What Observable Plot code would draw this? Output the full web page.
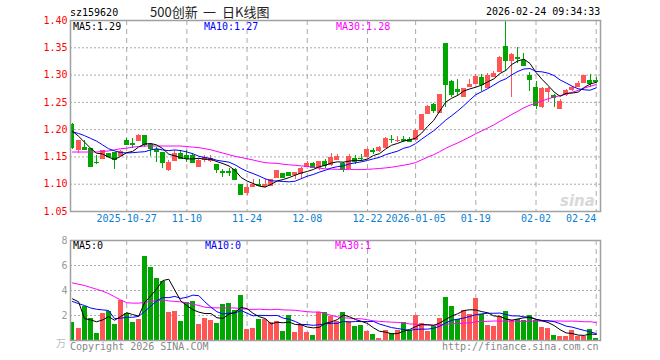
<!DOCTYPE html>
<html><head><meta charset="utf-8">
<script src="https://cdn.jsdelivr.net/npm/d3@7"></script>
<script src="https://cdn.jsdelivr.net/npm/@observablehq/plot@0.6"></script>
<style>
html,body{margin:0;padding:0;background:#fff;}
#wrap{position:relative;width:660px;height:360px;overflow:hidden;font-family:"DejaVu Sans Mono",monospace;font-size:10px;color:#000;}
.t{position:absolute;white-space:pre;line-height:12px;}
.cjk{font-family:"Noto Sans CJK SC",sans-serif;font-size:13px;line-height:16px;color:#222;}
#p1,#p2{position:absolute;left:0;}
</style></head><body>
<div id="wrap">
  <div id="p1" style="top:0px"></div>
  <div id="p2" style="top:230px"></div>
  <div class="t" style="left:70px;top:7px">sz159620</div>
  <div class="t cjk" style="left:150px;top:4px">500创新</div>
  <div class="t cjk" style="left:203px;top:4px">一</div>
  <div class="t cjk" style="left:222px;top:4px">日K线图</div>
  <div class="t" style="left:486px;top:6px">2026-02-24 09:34:33</div>
  <div class="t" style="left:73px;top:21px;color:#000">MA5:1.29</div>
  <div class="t" style="left:204px;top:21px;color:#0000ff">MA10:1.27</div>
  <div class="t" style="left:336px;top:21px;color:#ff00ff">MA30:1.28</div>
  <div class="t" style="left:73px;top:240px;color:#000">MA5:0</div>
  <div class="t" style="left:205px;top:240px;color:#0000ff">MA10:0</div>
  <div class="t" style="left:335px;top:240px;color:#ff00ff">MA30:1</div>
  <div class="t" style="left:70px;top:341px;color:#888">Copyright 2026 SINA.COM</div>
  <div class="t" style="left:442px;top:341px;color:#888">http://finance.sina.com.cn</div>
  <div class="t cjk" style="left:56px;top:335px;font-size:10px;color:#bbb">万</div>
  <div class="t" style="left:560px;top:193px;font-family:'DejaVu Sans',sans-serif;font-size:15px;line-height:16px;font-style:italic;font-weight:bold;color:#d8d8d8">sina</div>
</div>
<script>
// ---- categories ----
const dates = [
"2025-10-14","2025-10-15","2025-10-16","2025-10-17",
"2025-10-20","2025-10-21","2025-10-22","2025-10-23","2025-10-24",
"2025-10-27","2025-10-28","2025-10-29","2025-10-30","2025-10-31",
"2025-11-03","2025-11-04","2025-11-05","2025-11-06","2025-11-07",
"2025-11-10","2025-11-11","2025-11-12","2025-11-13","2025-11-14",
"2025-11-17","2025-11-18","2025-11-19","2025-11-20","2025-11-21",
"2025-11-24","2025-11-25","2025-11-26","2025-11-27","2025-11-28",
"2025-12-01","2025-12-02","2025-12-03","2025-12-04","2025-12-05",
"2025-12-08","2025-12-09","2025-12-10","2025-12-11","2025-12-12",
"2025-12-15","2025-12-16","2025-12-17","2025-12-18","2025-12-19",
"2025-12-22","2025-12-23","2025-12-24","2025-12-25","2025-12-26",
"2025-12-29","2025-12-30","2025-12-31",
"2026-01-05","2026-01-06","2026-01-07","2026-01-08","2026-01-09",
"2026-01-12","2026-01-13","2026-01-14","2026-01-15","2026-01-16",
"2026-01-19","2026-01-20","2026-01-21","2026-01-22","2026-01-23",
"2026-01-26","2026-01-27","2026-01-28","2026-01-29","2026-01-30",
"2026-02-02","2026-02-03","2026-02-04","2026-02-05","2026-02-06",
"2026-02-09","2026-02-10","2026-02-11","2026-02-12","2026-02-13",
"2026-02-24"];
const tickDates  = ["2025-10-27","2025-11-10","2025-11-24","2025-12-08","2025-12-22","2026-01-05","2026-01-19","2026-02-02","2026-02-24"];
const tickLabels = ["2025-10-27","11-10","11-24","12-08","12-22","2026-01-05","01-19","02-02","02-24"];
const priceTicks = [1.05,1.10,1.15,1.20,1.25,1.30,1.35,1.40];
const volTicks = [2,4,6,8];

// ---- series ----
const open = [1.210,1.163,1.168,1.165,1.140,1.148,1.156,1.158,1.153,1.1795,
1.174,1.1805,1.189,1.172,1.164,1.158,1.127,1.144,1.157,1.153,
1.153,1.133,1.145,1.1435,1.1355,1.124,1.123,1.1275,1.099,1.085,
1.0957,1.099,1.096,1.098,1.113,1.119,1.1215,1.117,1.119,1.1325,
1.138,1.1305,1.141,1.1355,1.146,1.1385,1.128,1.1476,1.148,1.1507,
1.161,1.161,1.167,1.1825,1.180,1.182,1.182,1.182,1.2003,1.229,
1.2455,1.2305,1.357,1.288,1.273,1.261,1.2785,1.284,1.296,1.2765,
1.298,1.307,1.352,1.3267,1.333,1.3267,1.2997,1.278,1.2426,1.269,
1.2629,1.2396,1.264,1.273,1.2795,1.2856,1.290,1.2906];
const high = [1.212,1.180,1.180,1.166,1.152,1.162,1.157,1.158,1.161,1.184,
1.183,1.191,1.190,1.175,1.167,1.159,1.143,1.161,1.161,1.161,
1.156,1.145,1.152,1.152,1.136,1.1275,1.129,1.129,1.100,1.099,
1.109,1.108,1.109,1.109,1.125,1.120,1.122,1.122,1.131,1.142,
1.139,1.142,1.146,1.157,1.154,1.139,1.154,1.153,1.155,1.166,
1.165,1.170,1.185,1.189,1.187,1.188,1.185,1.200,1.228,1.245,
1.247,1.265,1.358,1.290,1.291,1.276,1.292,1.301,1.301,1.302,
1.307,1.334,1.398,1.339,1.351,1.339,1.304,1.289,1.277,1.278,
1.265,1.255,1.273,1.2795,1.2885,1.300,1.301,1.296];
const low = [1.163,1.156,1.163,1.131,1.136,1.145,1.149,1.127,1.152,1.172,
1.166,1.178,1.167,1.151,1.139,1.129,1.124,1.142,1.145,1.139,
1.138,1.130,1.139,1.140,1.120,1.113,1.114,1.108,1.080,1.080,
1.094,1.096,1.096,1.096,1.110,1.110,1.114,1.108,1.109,1.131,
1.130,1.126,1.129,1.133,1.146,1.122,1.127,1.137,1.142,1.149,
1.155,1.159,1.166,1.175,1.176,1.176,1.178,1.180,1.199,1.227,
1.229,1.229,1.240,1.258,1.261,1.258,1.2765,1.2825,1.270,1.2745,
1.295,1.305,1.307,1.258,1.322,1.316,1.270,1.236,1.2395,1.249,
1.241,1.238,1.261,1.270,1.278,1.284,1.2764,1.2845];
const close = [1.168,1.1795,1.164,1.133,1.139,1.161,1.150,1.145,1.160,1.173,
1.173,1.190,1.172,1.165,1.160,1.139,1.139,1.157,1.148,1.148,
1.140,1.1435,1.149,1.147,1.1265,1.122,1.122,1.109,1.082,1.094,
1.100,1.098,1.099,1.108,1.1245,1.113,1.1155,1.121,1.128,1.1385,
1.131,1.141,1.1335,1.149,1.150,1.1277,1.151,1.141,1.147,1.164,
1.160,1.168,1.1833,1.182,1.181,1.181,1.179,1.1985,1.2275,1.2425,
1.2353,1.264,1.282,1.264,1.269,1.275,1.2825,1.298,1.2825,1.299,
1.302,1.3316,1.3267,1.3377,1.331,1.3175,1.2917,1.2445,1.275,1.275,
1.258,1.252,1.2715,1.2775,1.2843,1.2997,1.2844,1.2875];
const ma5 = [1.197,1.188,1.177,1.166,1.1568,1.1554,1.1494,1.1456,1.151,1.1578,
1.1602,1.1682,1.1736,1.1746,1.172,1.1652,1.155,1.152,1.1486,1.1462,
1.1464,1.1474,1.1458,1.1456,1.1414,1.1378,1.1334,1.1254,1.1124,1.1058,
1.1014,1.0966,1.0946,1.0998,1.106,1.1086,1.1122,1.1166,1.1206,1.1234,
1.127,1.132,1.1346,1.1388,1.141,1.1404,1.1424,1.1438,1.1434,1.1462,
1.1526,1.156,1.1644,1.1714,1.1748,1.179,1.1812,1.1844,1.1936,1.206,
1.2168,1.2338,1.2504,1.2576,1.2628,1.2708,1.2746,1.2778,1.2816,1.2876,
1.293,1.3028,1.3086,1.3196,1.326,1.3292,1.3212,1.3048,1.2922,1.281,
1.269,1.261,1.2664,1.267,1.2688,1.2772,1.2836,1.2868];
const ma10 = [1.196,1.193,1.189,1.184,1.179,1.172,1.165,1.161,1.158,1.1573,
1.1578,1.1588,1.1596,1.1628,1.1649,1.1627,1.1616,1.1628,1.1616,1.1591,
1.1558,1.1512,1.1489,1.1471,1.1438,1.1421,1.1404,1.1356,1.129,1.1236,
1.1196,1.115,1.11,1.1061,1.1059,1.105,1.1044,1.1056,1.1102,1.1147,
1.1178,1.1221,1.1256,1.1297,1.1322,1.1337,1.1372,1.1392,1.1411,1.1436,
1.1465,1.1492,1.1541,1.1574,1.1605,1.1658,1.1686,1.1744,1.1825,1.1904,
1.1979,1.2075,1.2174,1.2256,1.2344,1.2438,1.2542,1.2641,1.2696,1.2752,
1.2819,1.2887,1.2932,1.3006,1.3068,1.3111,1.312,1.3067,1.3059,1.3035,
1.2991,1.2911,1.2856,1.2796,1.2749,1.2731,1.2723,1.2766];
const ma30 = [1.159,1.159,1.159,1.159,1.159,1.160,1.161,1.163,1.165,1.166,
1.168,1.169,1.170,1.170,1.170,1.170,1.170,1.170,1.170,1.169,
1.168,1.167,1.165,1.163,1.160,1.157,1.154,1.151,1.149,1.1467,
1.1444,1.1417,1.1395,1.1387,1.1382,1.1366,1.1355,1.1347,1.1336,1.1325,
1.1311,1.1294,1.1282,1.1276,1.1273,1.1269,1.1273,1.1268,1.1268,1.1273,
1.128,1.1288,1.1299,1.1311,1.1329,1.1348,1.1367,1.1397,1.1446,1.1496,
1.1541,1.1596,1.1657,1.1709,1.1757,1.1811,1.1867,1.1926,1.1977,1.2031,
1.2088,1.2151,1.2216,1.2279,1.2339,1.2402,1.2449,1.2484,1.2527,1.2564,
1.2596,1.2624,1.2654,1.2686,1.272,1.276,1.2795,1.2825];
const volume = [1.47,0.99,2.72,1.73,0.59,2.19,2.32,1.28,3.20,2.13,
1.44,1.71,6.72,5.84,4.96,4.75,2.24,2.32,1.55,3.07,
3.12,1.28,1.76,1.57,1.36,2.88,2.99,2.40,3.60,0.88,
0.99,1.68,1.65,1.44,1.55,0.75,2.00,0.67,1.31,0.67,
0.40,2.24,2.24,1.92,1.55,2.24,1.55,1.12,1.20,0.72,
0.48,0.16,0.80,0.53,0.80,1.44,0.80,2.00,1.36,0.72,
1.15,1.76,3.44,2.72,1.65,2.40,2.08,3.36,2.05,1.20,
1.12,1.92,2.32,1.60,1.65,1.60,2.00,1.60,1.04,0.96,
0.40,0.32,0.32,0.80,0.32,0.32,0.88,0.16];
const vma5 = [3.33,3.10,1.75,1.65,1.50,1.644,1.91,1.622,1.916,2.224,
2.074,1.952,3.04,3.568,4.134,4.796,4.902,4.022,3.164,2.786,
2.46,2.268,2.156,2.16,1.818,1.77,2.112,2.24,2.646,2.55,
2.172,1.91,1.76,1.328,1.462,1.414,1.478,1.282,1.256,1.08,
1.01,1.058,1.372,1.494,1.67,2.038,1.90,1.676,1.532,1.366,
1.014,0.736,0.672,0.538,0.554,0.746,0.874,1.114,1.28,1.264,
1.206,1.398,1.686,1.958,2.144,2.394,2.458,2.442,2.308,2.218,
1.962,1.93,1.722,1.632,1.722,1.818,1.834,1.69,1.578,1.44,
1.2,0.864,0.608,0.56,0.432,0.408,0.52,0.488];
const vma10 = [3.12,2.95,2.80,2.60,2.50,2.45,2.40,1.75,1.78,1.862,
1.859,1.931,2.331,2.742,3.179,3.435,3.427,3.531,3.366,3.46,
3.628,3.585,3.089,2.662,2.302,2.115,2.19,2.198,2.403,2.184,
1.971,2.011,2.0,1.987,2.006,1.793,1.694,1.521,1.292,1.271,
1.212,1.268,1.327,1.375,1.375,1.524,1.479,1.524,1.513,1.518,
1.526,1.318,1.174,1.035,0.96,0.88,0.805,0.893,0.909,0.909,
0.976,1.136,1.40,1.619,1.704,1.80,1.928,2.064,2.133,2.181,
2.178,2.194,2.082,1.97,1.97,1.89,1.882,1.706,1.605,1.581,
1.509,1.349,1.149,1.069,0.936,0.808,0.696,0.552];
const vma30 = [4.61,4.50,4.40,4.25,4.10,3.95,3.75,3.50,3.25,3.02,
2.99,2.99,3.05,3.12,3.20,3.24,3.17,3.13,3.09,3.00,
2.90,2.80,2.66,2.62,2.61,2.61,2.61,2.60,2.55,2.502,
2.486,2.509,2.473,2.464,2.496,2.448,2.437,2.417,2.354,2.305,
2.27,2.288,2.139,2.008,1.894,1.811,1.788,1.748,1.736,1.658,
1.57,1.532,1.5,1.466,1.447,1.399,1.326,1.313,1.238,1.233,
1.238,1.241,1.30,1.343,1.346,1.401,1.404,1.494,1.518,1.536,
1.56,1.549,1.552,1.541,1.545,1.523,1.538,1.554,1.549,1.557,
1.554,1.56,1.544,1.553,1.537,1.499,1.502,1.441];

// ---- styling ----
const RED = "#ff5555", GREEN = "#00a600", MONO = "DejaVu Sans Mono";
const rows = dates.map((d, i) => ({i, d, o: open[i], h: high[i], l: low[i], c: close[i], v: volume[i],
  m5: ma5[i], m10: ma10[i], m30: ma30[i], vm5: vma5[i], vm10: vma10[i], vm30: vma30[i]}));
const col = d => d.c >= d.o ? RED : GREEN;
const tickIdx = tickDates.map(t => dates.indexOf(t));
const HW = 0.415;
const xScale = {type: "linear", domain: [-0.332, 87.714], axis: null};
const gridX = Plot.ruleX(tickIdx, {stroke: "#aaa", strokeDasharray: "5,4"});

const price = Plot.plot({
  width: 660, height: 230, marginLeft: 70, marginRight: 60, marginTop: 20, marginBottom: 19,
  style: {fontFamily: MONO, fontSize: "10px", background: "transparent", overflow: "visible"},
  x: xScale,
  y: {domain: [1.05, 1.40], axis: null},
  marks: [
    Plot.ruleY(priceTicks.slice(1, -1), {stroke: "#aaa", strokeDasharray: "2,2"}),
    gridX,
    Plot.ruleX(rows, {x: "i", y1: "l", y2: "h", stroke: col, shapeRendering: "crispEdges"}),
    Plot.rect(rows, {x1: d => d.i - HW, x2: d => d.i + HW, y1: "o", y2: "c", fill: col, shapeRendering: "crispEdges"}),
    Plot.ruleY(rows, {y: "c", x1: d => d.i - HW, x2: d => d.i + HW, stroke: col, shapeRendering: "crispEdges"}),
    Plot.ruleY(rows, {y: "o", x1: d => d.i - HW, x2: d => d.i + HW, stroke: col, shapeRendering: "crispEdges"}),
    Plot.line(rows, {x: "i", y: "m30", stroke: "#ff00ff", strokeWidth: 1}),
    Plot.line(rows, {x: "i", y: "m10", stroke: "#0000ff", strokeWidth: 1}),
    Plot.line(rows, {x: "i", y: "m5", stroke: "#000", strokeWidth: 1}),
    Plot.frame({stroke: "#a0a0a0", strokeWidth: 1.5}),
    Plot.text(priceTicks, {y: d => d, text: d => d.toFixed(2), frameAnchor: "left", textAnchor: "end", dx: -3, fill: "#ff0000", fontFamily: MONO, fontSize: 10}),
    Plot.text(tickIdx.slice(0, -1), {x: d => d, text: (d, k) => tickLabels[k], frameAnchor: "bottom", dy: 10.5, fill: "#0a80d0", fontFamily: MONO, fontSize: 10}),
    Plot.text(tickIdx.slice(-1), {x: d => d, text: () => tickLabels[tickLabels.length - 1], frameAnchor: "bottom", dy: 10.5, textAnchor: "end", fill: "#0a80d0", fontFamily: MONO, fontSize: 10})
  ]
});
document.getElementById("p1").appendChild(price);

const vol = Plot.plot({
  width: 660, height: 130, marginLeft: 70, marginRight: 60, marginTop: 10, marginBottom: 20,
  style: {fontFamily: MONO, fontSize: "10px", background: "transparent", overflow: "visible"},
  x: xScale,
  y: {domain: [0, 8], axis: null},
  marks: [
    Plot.ruleY([2, 4, 6], {stroke: "#aaa", strokeDasharray: "2,2"}),
    gridX,
    Plot.rectY(rows, {x1: d => d.i - HW, x2: d => d.i + HW, y: "v", fill: col, shapeRendering: "crispEdges"}),
    Plot.line(rows, {x: "i", y: "vm30", stroke: "#ff00ff", strokeWidth: 1}),
    Plot.line(rows, {x: "i", y: "vm10", stroke: "#0000ff", strokeWidth: 1}),
    Plot.line(rows, {x: "i", y: "vm5", stroke: "#000", strokeWidth: 1}),
    Plot.frame({stroke: "#a0a0a0", strokeWidth: 1.5}),
    Plot.text(volTicks, {y: d => d, text: d => String(d), frameAnchor: "left", textAnchor: "end", dx: -3, fill: "#999", fontFamily: MONO, fontSize: 10})
  ]
});
document.getElementById("p2").appendChild(vol);
</script>
</body></html>
